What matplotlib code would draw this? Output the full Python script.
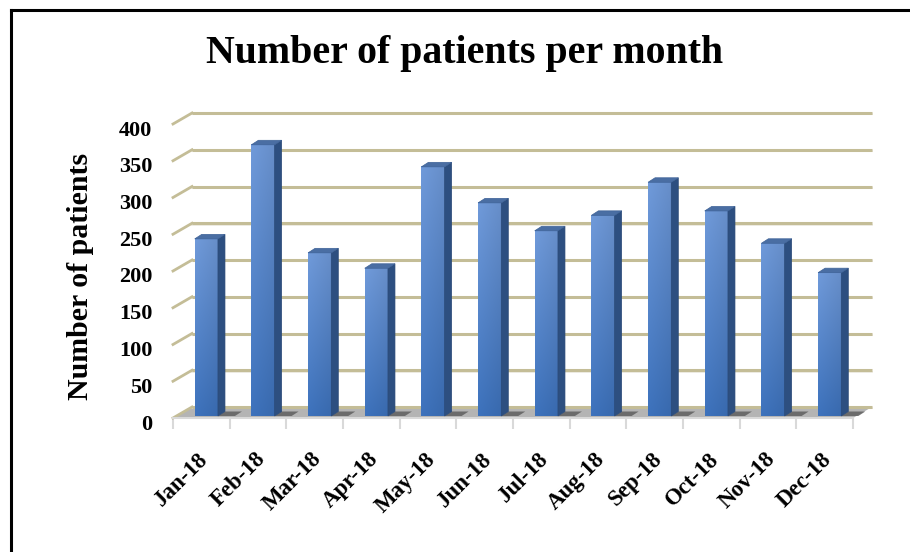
import numpy as np
import matplotlib
matplotlib.use('Agg')
import matplotlib.pyplot as plt
import matplotlib.transforms as mtransforms
from matplotlib.patches import Polygon
from matplotlib.lines import Line2D

# data
months = ['Jan-18', 'Feb-18', 'Mar-18', 'Apr-18', 'May-18', 'Jun-18',
          'Jul-18', 'Aug-18', 'Sep-18', 'Oct-18', 'Nov-18', 'Dec-18']
patients = [241, 369, 222, 201, 339, 290, 252, 273, 318, 279, 235, 195]
y_ticks = [0, 50, 100, 150, 200, 250, 300, 350, 400]

plt.rcParams['font.family'] = ['Liberation Serif', 'DejaVu Serif']
plt.rcParams['font.weight'] = 'bold'

W, H = 910, 552
fig = plt.figure(figsize=(W / 100, H / 100), dpi=100)
ax = fig.add_axes([173 / W, (H - 418) / H, 680 / W, 294 / H])
ax.set_xlim(-0.5, 11.5)
ax.set_ylim(0, 400)

# pixel -> data helpers (3d look: depth goes up and to the right)
px_x = 680 / 12.0
px_y = 294 / 400.0
wall_dx, wall_dy = 19 / px_x, 11 / px_y
bar_dx, bar_dy = 7 / px_x, 4.5 / px_y
shift_x, shift_y = 7 / px_x, 2 / px_y
bar_w = 0.41

grid_col = '#c4bd97'

# floor
floor = Polygon([(-0.5, 0), (11.5, 0), (11.5 + wall_dx, wall_dy), (-0.5 + wall_dx, wall_dy)],
                closed=True, facecolor='#b4b4b4', edgecolor='none', zorder=1, clip_on=False)
ax.add_patch(floor)

# back wall gridlines + left wall stubs
for v in y_ticks:
    ax.plot([-0.5 + wall_dx, 11.5 + wall_dx], [v + wall_dy - 1.4 / px_y] * 2,
            color='#ebe9df', lw=1.2, zorder=1.5, clip_on=False)
    ax.plot([-0.5 + wall_dx, 11.5 + wall_dx], [v + wall_dy] * 2,
            color=grid_col, lw=2.2, zorder=2, clip_on=False, solid_capstyle='butt')
    ax.plot([-0.5, -0.5 + wall_dx], [v, v + wall_dy],
            color=grid_col, lw=2.0, zorder=2, clip_on=False)

# gradient for bar fronts
rows = np.linspace(0, 1, 60)[:, None]
cols = np.linspace(0, 1, 12)[None, :]
top_c = np.array([0.42, 0.58, 0.82])
bot_c = np.array([0.23, 0.43, 0.71])
grad = top_c * (1 - rows[..., None]) + bot_c * rows[..., None]
grad = grad * (1.04 - 0.08 * cols[..., None])
grad = np.clip(grad, 0, 1)

for i, h in enumerate(patients):
    x0 = i - bar_w / 2 + shift_x - 0.035
    x1 = x0 + bar_w
    b = shift_y
    top = h + shift_y
    # shadow on the floor
    ax.add_patch(Polygon([(x1, b), (x1 + 0.3, b), (x1 + 0.3 + bar_dx, b + bar_dy),
                          (x1 + bar_dx, b + bar_dy)],
                         closed=True, facecolor='#5f5f5f', edgecolor='none',
                         alpha=0.85, zorder=2.5, clip_on=False))
    ax.imshow(grad, extent=[x0, x1, b, top], aspect='auto', zorder=3,
              interpolation='bilinear', clip_on=False)
    ax.add_patch(Polygon([(x1, b), (x1 + bar_dx, b + bar_dy), (x1 + bar_dx, top + bar_dy), (x1, top)],
                         closed=True, facecolor='#2d4f80', edgecolor='#2a4a78', lw=0.5,
                         zorder=3, clip_on=False))
    ax.add_patch(Polygon([(x0, top), (x1, top), (x1 + bar_dx, top + bar_dy), (x0 + bar_dx, top + bar_dy)],
                         closed=True, facecolor='#4a6ea3', edgecolor='#3f6398', lw=0.5,
                         zorder=3, clip_on=False))

ax.set_xlim(-0.5, 11.5)
ax.set_ylim(0, 400)

# axes styling
for s in ['top', 'right', 'left']:
    ax.spines[s].set_visible(False)
ax.spines['bottom'].set_color('#d9d9d9')
ax.spines['bottom'].set_linewidth(1.5)
ax.set_facecolor('none')

ax.set_yticks(y_ticks)
ax.tick_params(axis='y', length=0, pad=15, labelsize=16)
for lab in ax.get_yticklabels():
    lab.set_fontweight('bold')
    lab.set_transform(lab.get_transform() +
                      mtransforms.ScaledTranslation(0, -4 / 100, fig.dpi_scale_trans))

ax.set_xticks(np.arange(-0.5, 12, 1), minor=True)
ax.tick_params(axis='x', which='minor', length=8, width=1.5, color='#d9d9d9')
ax.set_xticks(range(len(months)))
ax.set_xticklabels([])
ax.tick_params(axis='x', which='major', length=0)

lab_tr = ax.get_xaxis_transform() + mtransforms.ScaledTranslation(4 / 100, -38 / 100, fig.dpi_scale_trans)
for i, m in enumerate(months):
    ax.text(i, 0, m, transform=lab_tr, rotation=45, rotation_mode='anchor',
            ha='right', va='center', fontsize=16.5, fontweight='bold')

fig.text(465 / W, 1 - 54 / H, 'Number of patients per month', ha='center', va='center',
         fontsize=28.7, fontweight='bold')
fig.text(80 / W, 1 - 276 / H, 'Number of patients', ha='center', va='center',
         rotation=90, fontsize=21.5, fontweight='bold')

# partial black frame (left and top)
fig.add_artist(Line2D([11 / W, 11 / W], [0, 1 - 10 / H], color='black', lw=2.2))
fig.add_artist(Line2D([11 / W, 1], [1 - 10 / H, 1 - 10 / H], color='black', lw=2.2))

fig.savefig('out.png', dpi=100)
